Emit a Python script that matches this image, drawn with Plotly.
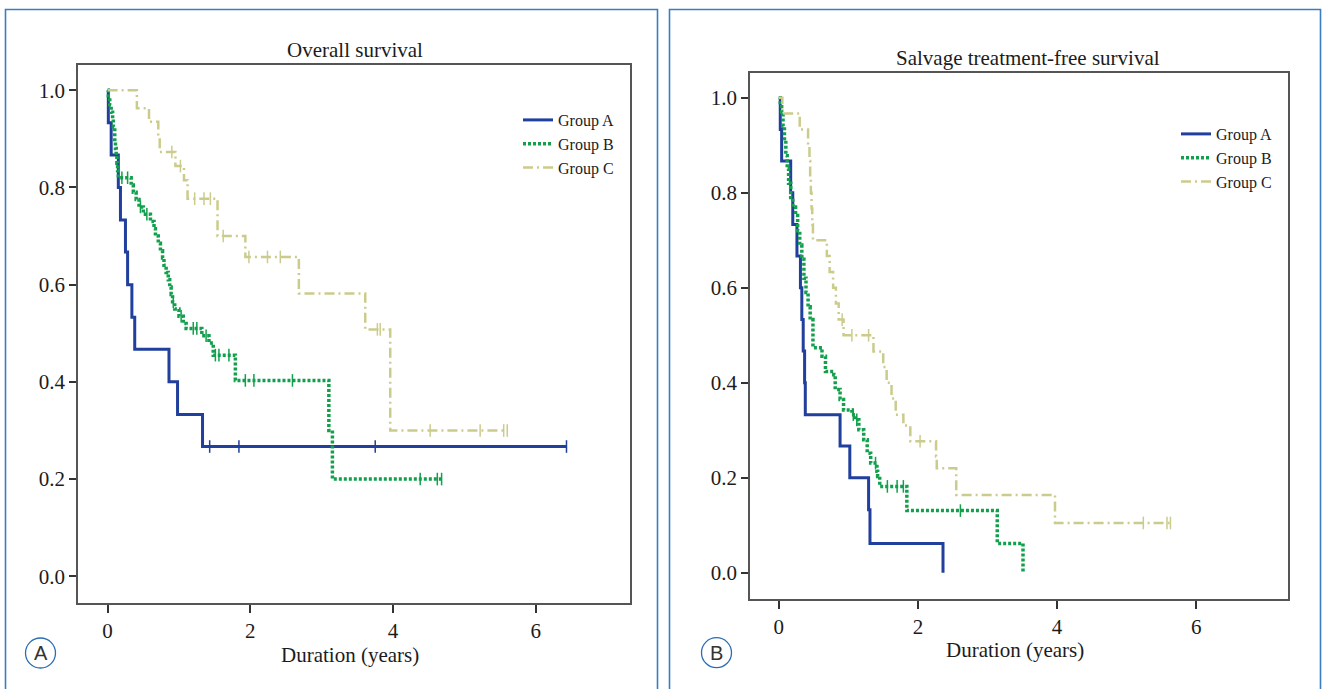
import plotly.graph_objects as go

W, H = 1322, 689
SERIF = "Liberation Serif, Times New Roman, serif"
SANS = "Liberation Sans Narrow, Liberation Sans, Arial, sans-serif"

# ---------------- data ----------------
# Panel A: Overall survival
os_a_t = [0.01, 0.05, 0.15, 0.18, 0.25, 0.28, 0.34, 0.38, 0.86, 0.98, 1.33]
os_a_s = [0.933, 0.867, 0.80, 0.733, 0.667, 0.60, 0.533, 0.467, 0.40, 0.333, 0.267]
os_a_cens = [1.43, 1.84, 3.75, 6.43]

os_b_t = [0.01, 0.03, 0.05, 0.07, 0.08, 0.10, 0.11, 0.12, 0.13, 0.14, 0.15,
          0.33, 0.36, 0.40, 0.44, 0.50, 0.60, 0.65, 0.67, 0.71, 0.74, 0.77,
          0.79, 0.82, 0.85, 0.87, 0.89, 0.91, 0.94, 1.00, 1.06, 1.10, 1.32,
          1.42, 1.48, 1.79, 3.10, 3.15]
os_b_s = [0.985, 0.97, 0.955, 0.94, 0.925, 0.895, 0.88, 0.865, 0.85, 0.835, 0.82,
          0.805, 0.79, 0.775, 0.76, 0.745, 0.73, 0.715, 0.70, 0.685, 0.67, 0.655,
          0.64, 0.625, 0.61, 0.595, 0.58, 0.565, 0.55, 0.535, 0.52, 0.51, 0.495,
          0.48, 0.455, 0.403, 0.30, 0.20]
os_b_cens = [0.20, 0.28, 0.46, 0.55, 0.92, 1.03, 1.20, 1.25, 1.38, 1.51, 1.56,
             1.70, 1.93, 2.05, 2.59, 4.38, 4.62, 4.68]

os_c_t = [0.41, 0.58, 0.71, 0.73, 0.95, 1.07, 1.12, 1.54, 1.93, 2.68, 3.61, 3.96]
os_c_s = [0.963, 0.935, 0.904, 0.873, 0.844, 0.815, 0.777, 0.70, 0.657, 0.582, 0.508, 0.30]
os_c_cens = [0.90, 1.02, 1.22, 1.35, 1.44, 1.62, 1.98, 2.24, 2.42, 3.78, 3.82,
             4.52, 5.22, 5.55, 5.60]

# Panel B: Salvage treatment-free survival
st_a_t = [0.02, 0.04, 0.17, 0.20, 0.26, 0.31, 0.33, 0.35, 0.37, 0.38, 0.88,
          1.02, 1.29, 1.31, 2.36]
st_a_s = [0.933, 0.867, 0.80, 0.733, 0.667, 0.60, 0.533, 0.467, 0.40, 0.333,
          0.267, 0.20, 0.133, 0.062, 0.0]
st_a_cens = []

st_b_t = [0.02, 0.04, 0.06, 0.08, 0.10, 0.12, 0.14, 0.17, 0.20, 0.24, 0.27,
          0.30, 0.33, 0.36, 0.39, 0.42, 0.45, 0.49, 0.62, 0.67, 0.79, 0.81,
          0.88, 0.93, 1.05, 1.10, 1.15, 1.22, 1.27, 1.32, 1.41, 1.42, 1.45,
          1.84, 3.14, 3.51]
st_b_s = [0.985, 0.97, 0.94, 0.91, 0.878, 0.85, 0.82, 0.79, 0.77, 0.752, 0.72,
          0.69, 0.66, 0.62, 0.59, 0.56, 0.533, 0.474, 0.456, 0.424, 0.417, 0.386,
          0.365, 0.343, 0.333, 0.322, 0.301, 0.28, 0.252, 0.231, 0.214, 0.203,
          0.182, 0.131, 0.062, 0.0]
st_b_cens = [1.07, 1.12, 1.39, 1.56, 1.70, 1.79, 2.61]

st_c_t = [0.05, 0.30, 0.42, 0.44, 0.45, 0.46, 0.47, 0.48, 0.49, 0.69, 0.73,
          0.78, 0.82, 0.86, 0.93, 1.36, 1.50, 1.55, 1.62, 1.68, 1.79, 1.89,
          2.26, 2.27, 2.55, 3.97]
st_c_s = [0.967, 0.933, 0.90, 0.867, 0.833, 0.80, 0.767, 0.733, 0.70, 0.667,
          0.633, 0.60, 0.567, 0.533, 0.50, 0.466, 0.433, 0.40, 0.367, 0.333,
          0.31, 0.277, 0.245, 0.22, 0.164, 0.105]
st_c_cens = [0.91, 1.05, 1.29, 2.03, 5.24, 5.58, 5.63]

group_names = ["Group A", "Group B", "Group C"]
x_ticks = [0, 2, 4, 6]
y_ticks = [0.0, 0.2, 0.4, 0.6, 0.8, 1.0]
panel_titles = ["Overall survival", "Salvage treatment-free survival"]
x_title = "Duration (years)"
panel_letters = ["A", "B"]

# ---------------- styles ----------------
COL_A = "#213f9c"
COL_B = "#12a04c"
COL_C = "#cbcc8c"
FRAME = "#3b7cc3"
TEXT = "#1c1c1c"
styles = [
    dict(color=COL_A, dash="solid", width=3),
    dict(color=COL_B, dash="3px,2px", width=3.5),
    dict(color=COL_C, dash="10px,4px,2px,4px", width=2.5),
]


def step_value(times, surv, t):
    v = 1.0
    for ti, si in zip(times, surv):
        if ti <= t:
            v = si
    return v


fig = go.Figure()


def add_group(times, surv, cens, name, style, xa, ya, legend):
    end = max([times[-1]] + list(cens))
    x = [0.0] + list(times)
    y = [1.0] + list(surv)
    if end > times[-1]:
        x.append(end)
        y.append(surv[-1])
    fig.add_trace(go.Scatter(
        x=x, y=y, mode="lines", name=name,
        line=dict(shape="hv", color=style["color"], dash=style["dash"], width=style["width"]),
        xaxis=xa, yaxis=ya, legend=legend, hoverinfo="skip"))
    if cens:
        cy = [step_value(times, surv, c) for c in cens]
        fig.add_trace(go.Scatter(
            x=cens, y=cy, mode="markers", showlegend=False,
            marker=dict(symbol="line-ns", size=9,
                        line=dict(color=style["color"], width=1.5)),
            xaxis=xa, yaxis=ya, hoverinfo="skip"))


panel_a = [(os_a_t, os_a_s, os_a_cens), (os_b_t, os_b_s, os_b_cens), (os_c_t, os_c_s, os_c_cens)]
panel_b = [(st_a_t, st_a_s, st_a_cens), (st_b_t, st_b_s, st_b_cens), (st_c_t, st_c_s, st_c_cens)]

for (t, s, c), nm, st in zip(panel_a, group_names, styles):
    add_group(t, s, c, nm, st, "x", "y", "legend")
for (t, s, c), nm, st in zip(panel_b, group_names, styles):
    add_group(t, s, c, nm, st, "x2", "y2", "legend2")


def px_x(p):
    return p / W


def px_y(p):
    return 1 - p / H


tickfont = dict(family=SERIF, size=21, color=TEXT)
common_x = dict(range=[-0.415, 7.32], tickvals=x_ticks, ticks="outside", ticklen=8,
                tickwidth=1.5, tickcolor="#333", showline=True, mirror=True,
                linecolor="#555", linewidth=1.6, showgrid=False, zeroline=False,
                tickfont=tickfont)
common_y = dict(range=[-0.055, 1.052], tickvals=y_ticks,
                ticktext=[f"{v:.1f}" for v in y_ticks], ticks="outside", ticklen=7,
                tickwidth=1.5, tickcolor="#333", showline=True, mirror=True,
                linecolor="#555", linewidth=1.6, showgrid=False, zeroline=False,
                tickfont=tickfont)

legend_common = dict(xanchor="left", yanchor="top",
                     font=dict(family=SERIF, size=16, color=TEXT),
                     bgcolor="rgba(0,0,0,0)", itemwidth=30, tracegroupgap=0,
                     traceorder="normal")

fig.update_layout(
    width=W, height=H, margin=dict(l=0, r=0, t=0, b=0),
    paper_bgcolor="white", plot_bgcolor="white",
    xaxis=dict(domain=[px_x(78), px_x(630)], anchor="y", **common_x),
    yaxis=dict(domain=[px_y(603), px_y(65)], anchor="x", **common_y),
    xaxis2=dict(domain=[px_x(750), px_x(1288)], anchor="y2", **common_x),
    yaxis2=dict(domain=[px_y(599), px_y(73)], anchor="x2", **common_y),
    legend=dict(x=px_x(518), y=px_y(103), **legend_common),
    legend2=dict(x=px_x(1176), y=px_y(117), **legend_common),
)

txt_font = dict(family=SERIF, size=21, color=TEXT)
for text, x, y in [(panel_titles[0], 355, 50), (panel_titles[1], 1028, 58),
                   (x_title, 350, 655), (x_title, 1015, 650)]:
    fig.add_annotation(text=text, x=px_x(x), y=px_y(y), xref="paper", yref="paper",
                       xanchor="center", yanchor="middle", showarrow=False, font=txt_font)

# outer frames (open at the bottom)
for lx, rx in [(5.5, 657.5), (669.5, 1320.5)]:
    fig.add_shape(type="path", xref="paper", yref="paper",
                  path=f"M {px_x(lx)} -0.05 L {px_x(lx)} {px_y(9.5)} L {px_x(rx)} {px_y(9.5)} L {px_x(rx)} -0.05",
                  line=dict(color=FRAME, width=1.6))

# circled panel letters
for letter, cx, cy in [(panel_letters[0], 40.5, 653), (panel_letters[1], 716.5, 652.7)]:
    r = 15
    fig.add_shape(type="circle", xref="paper", yref="paper",
                  x0=px_x(cx - r), x1=px_x(cx + r), y0=px_y(cy + r), y1=px_y(cy - r),
                  line=dict(color="#2a6db5", width=1.3))
    fig.add_annotation(text=letter, x=px_x(cx), y=px_y(cy), xref="paper", yref="paper",
                       xanchor="center", yanchor="middle",
                       showarrow=False, font=dict(family=SANS, size=20, color="#333"))

fig.write_html("out.html", config={"displayModeBar": False},
               post_script="document.body.style.margin='0';document.body.style.overflow='hidden';")
